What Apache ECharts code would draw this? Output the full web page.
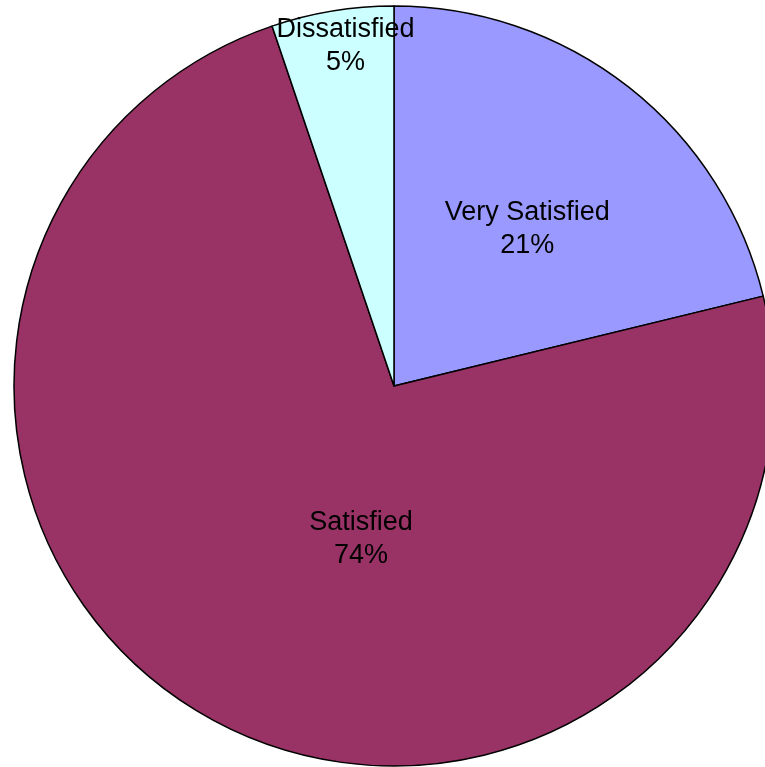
<!DOCTYPE html>
<html>
<head>
<meta charset="utf-8">
<script src="https://cdn.jsdelivr.net/npm/echarts@6/dist/echarts.min.js"></script>
<style>html,body{margin:0;padding:0;background:#fff}#c{width:765px;height:767px}</style>
</head>
<body>
<div id="c"></div>
<script>
const categories = ['Very Satisfied', 'Satisfied', 'Dissatisfied'];
const values = [21.2, 73.6, 5.2];
const percentLabels = ['21%', '74%', '5%'];

const colors = ['#9999FF', '#993366', '#CCFFFF'];
const labelOffsets = [[14, -5], [60, -16], [-17, -150]];

const chart = echarts.init(document.getElementById('c'), null, {renderer: 'canvas'});
chart.setOption({
  animation: false,
  series: [{
    type: 'pie',
    center: [394, 386],
    radius: [0, 380],
    startAngle: 90,
    clockwise: true,
    avoidLabelOverlap: false,
    data: categories.map((name, i) => ({
      name: name,
      value: values[i],
      itemStyle: {color: colors[i]},
      label: {offset: labelOffsets[i]}
    })),
    itemStyle: {borderColor: '#000', borderWidth: 1.5},
    label: {
      show: true,
      position: 'inside',
      formatter: p => p.name + '\n' + percentLabels[p.dataIndex],
      color: '#000',
      fontFamily: 'Liberation Sans, Arial, sans-serif',
      fontSize: 27,
      lineHeight: 33,
      align: 'center'
    },
    labelLine: {show: false},
    emphasis: {disabled: true}
  }]
});
</script>
</body>
</html>
